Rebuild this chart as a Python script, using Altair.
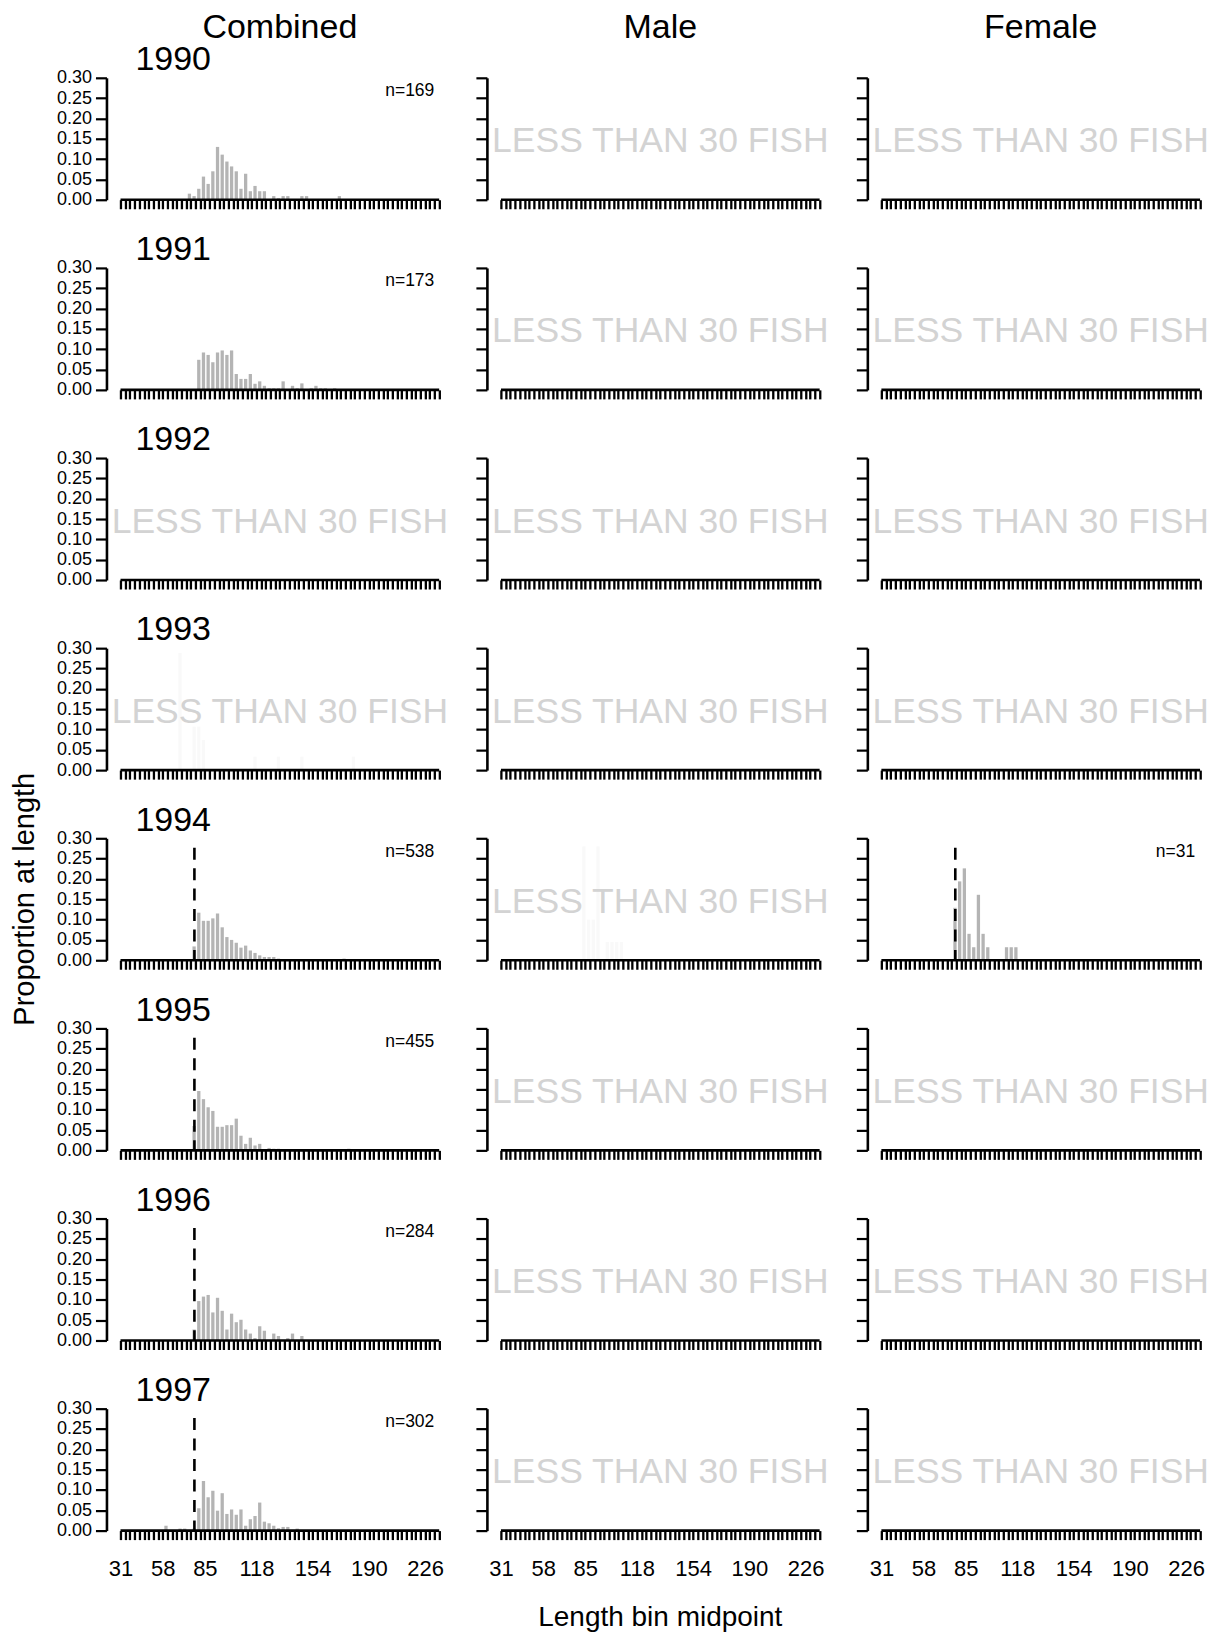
import altair as alt
import pandas as pd

FONT = "Liberation Sans"

# ---------------- data ----------------
BIN_MIDPOINTS = list(range(31, 236, 3))
TICK_LABELS = [31, 58, 85, 118, 154, 190, 226]
YEARS = [1990, 1991, 1992, 1993, 1994, 1995, 1996, 1997]
SEXES = ["Combined", "Male", "Female"]
Y_TICKS = [0.0, 0.05, 0.10, 0.15, 0.20, 0.25, 0.30]

comb_1990_len = [73, 76, 79, 82, 85, 88, 91, 94, 97, 100, 103, 106, 109, 112, 115, 118, 121, 127, 130, 133, 136, 145, 148, 169]
comb_1990_prop = [0.015, 0.009, 0.027, 0.057, 0.039, 0.070, 0.130, 0.111, 0.094, 0.082, 0.070, 0.027, 0.064, 0.021, 0.034, 0.021, 0.021, 0.009, 0.004, 0.009, 0.009, 0.009, 0.009, 0.009]

comb_1991_len = [79, 82, 85, 88, 91, 94, 97, 100, 103, 106, 109, 112, 115, 118, 121, 124, 127, 130, 133, 139, 142, 145, 151, 154, 157, 160, 166]
comb_1991_prop = [0.074, 0.092, 0.086, 0.068, 0.092, 0.097, 0.086, 0.097, 0.039, 0.027, 0.027, 0.039, 0.015, 0.021, 0.010, 0.004, 0.004, 0.004, 0.021, 0.010, 0.004, 0.016, 0.004, 0.010, 0.004, 0.004, 0.004]

comb_1994_len = [76, 79, 82, 85, 88, 91, 94, 97, 100, 103, 106, 109, 112, 115, 118, 121, 124, 127, 130, 133, 172]
comb_1994_prop = [0.034, 0.117, 0.097, 0.097, 0.103, 0.115, 0.081, 0.057, 0.050, 0.043, 0.031, 0.036, 0.024, 0.018, 0.012, 0.008, 0.008, 0.008, 0.004, 0.002, 0.004]

comb_1995_len = [76, 79, 82, 85, 88, 91, 94, 97, 100, 103, 106, 109, 112, 115, 118, 124, 127, 130, 175]
comb_1995_prop = [0.060, 0.146, 0.126, 0.106, 0.097, 0.058, 0.058, 0.062, 0.062, 0.078, 0.036, 0.016, 0.031, 0.012, 0.016, 0.006, 0.004, 0.004, 0.004]

comb_1996_len = [76, 79, 82, 85, 88, 91, 94, 97, 100, 103, 106, 109, 112, 115, 118, 121, 127, 130, 136, 139, 145]
comb_1996_prop = [0.027, 0.097, 0.108, 0.112, 0.069, 0.105, 0.073, 0.027, 0.066, 0.045, 0.051, 0.027, 0.017, 0.006, 0.035, 0.024, 0.017, 0.011, 0.006, 0.017, 0.011]

comb_1997_len = [58, 67, 70, 76, 79, 82, 85, 88, 91, 94, 97, 100, 103, 106, 109, 112, 115, 118, 121, 124, 127, 130, 133, 136, 142]
comb_1997_prop = [0.012, 0.005, 0.005, 0.005, 0.055, 0.122, 0.082, 0.098, 0.049, 0.092, 0.041, 0.052, 0.039, 0.052, 0.012, 0.028, 0.036, 0.069, 0.022, 0.018, 0.012, 0.006, 0.009, 0.009, 0.005]

fem_1994_len = [76, 79, 82, 85, 88, 91, 94, 97, 109, 112, 115]
fem_1994_prop = [0.129, 0.194, 0.226, 0.065, 0.032, 0.161, 0.065, 0.032, 0.032, 0.032, 0.032]

# faint bars behind the "fewer than 30 fish" notice
comb_1993_len = [67, 76, 79, 82, 115, 130, 145, 178]
comb_1993_prop = [0.288, 0.107, 0.107, 0.074, 0.033, 0.033, 0.033, 0.033]
male_1994_len = [82, 85, 88, 91, 97, 100, 103, 106]
male_1994_prop = [0.280, 0.100, 0.100, 0.280, 0.045, 0.045, 0.045, 0.045]

PANELS = {
    ("Combined", 1990): (comb_1990_len, comb_1990_prop),
    ("Combined", 1991): (comb_1991_len, comb_1991_prop),
    ("Combined", 1994): (comb_1994_len, comb_1994_prop),
    ("Combined", 1995): (comb_1995_len, comb_1995_prop),
    ("Combined", 1996): (comb_1996_len, comb_1996_prop),
    ("Combined", 1997): (comb_1997_len, comb_1997_prop),
    ("Female", 1994): (fem_1994_len, fem_1994_prop),
}
FAINT_PANELS = {
    ("Combined", 1993): (comb_1993_len, comb_1993_prop),
    ("Male", 1994): (male_1994_len, male_1994_prop),
}
SAMPLE_N = {
    ("Combined", 1990): 169,
    ("Combined", 1991): 173,
    ("Combined", 1994): 538,
    ("Combined", 1995): 455,
    ("Combined", 1996): 284,
    ("Combined", 1997): 302,
    ("Female", 1994): 31,
}
CUTOFF_PANELS = [("Combined", 1994), ("Combined", 1995), ("Combined", 1996),
                 ("Combined", 1997), ("Female", 1994)]
CUTOFF_LENGTH = 78.3
CUTOFF_TOP = 0.277

NOTICE = "LESS THAN 30 FISH"
X_TITLE = "Length bin midpoint"
Y_TITLE = "Proportion at length"

# ---------------- layout ----------------
W, H = 336, 122
X_DOMAIN = [22, 237]
Y_DOMAIN = [0, 0.30]
BAR_COLOR = "#b4b4b4"
FAINT_COLOR = "#f9f9f9"
NOTICE_COLOR = "#d3d3d3"

XS = alt.Scale(domain=X_DOMAIN, nice=False, zero=False)
YS = alt.Scale(domain=Y_DOMAIN, nice=False, zero=True)


def px(v):
    return (v - X_DOMAIN[0]) / (X_DOMAIN[1] - X_DOMAIN[0]) * W


MID_PX = px((BIN_MIDPOINTS[0] + BIN_MIDPOINTS[-1]) / 2)

label_expr = ("indexof([" + ",".join(str(v) for v in TICK_LABELS)
              + "], datum.value) >= 0 ? datum.label : ''")


def text_layer(text, x, y, size, align="left", color="black",
               baseline="alphabetic", angle=0):
    return alt.Chart(pd.DataFrame({"t": [text]})).mark_text(
        align=align, baseline=baseline, fontSize=size, font=FONT,
        color=color, angle=angle
    ).encode(x=alt.value(x), y=alt.value(y), text="t:N")


def make_panel(sex, year):
    first_col = sex == SEXES[0]
    last_row = year == YEARS[-1]
    key = (sex, year)

    x_axis = alt.Axis(
        values=BIN_MIDPOINTS, domain=False, grid=False, ticks=True,
        tickSize=9, tickWidth=2.3, tickColor="black",
        labels=last_row, labelExpr=label_expr, labelFont=FONT,
        labelFontSize=22, labelColor="black", labelPadding=36,
        labelBaseline="alphabetic", labelFlush=False, labelOverlap=False,
        labelBound=False, title=None,
    )
    y_axis = alt.Axis(
        values=Y_TICKS, format=".2f", domain=True, domainColor="black",
        domainWidth=2.6, ticks=True, tickSize=11, tickWidth=2.2,
        tickColor="black", labels=first_col, labelFont=FONT,
        labelFontSize=18, labelColor="black", labelPadding=4,
        grid=False, title=None, labelOverlap=False,
    )

    def X(field):
        return alt.X(field, scale=XS, axis=x_axis)

    def Y(field):
        return alt.Y(field, scale=YS, axis=y_axis)

    base_df = pd.DataFrame({"start": [BIN_MIDPOINTS[0]],
                            "end": [BIN_MIDPOINTS[-1]], "zero": [0.0]})
    axis_line = alt.Chart(base_df).mark_rule(
        color="black", strokeWidth=2.6
    ).encode(x=X("start:Q"), x2="end:Q", y=Y("zero:Q"))

    layers = []
    data = PANELS.get(key) or FAINT_PANELS.get(key)
    if data is not None:
        lens, props = data
        df = pd.DataFrame({"len": lens, "prop": props})
        df["lo"] = df["len"] + 1.05
        df["hi"] = df["len"] + 3.15
        df["base"] = 0.0
        color = BAR_COLOR if key in PANELS else FAINT_COLOR
        layers.append(
            alt.Chart(df).mark_bar(color=color).encode(
                x=X("lo:Q"), x2="hi:Q", y=Y("prop:Q"), y2="base:Q",
            )
        )
    layers.append(axis_line)

    if key in CUTOFF_PANELS:
        cdf = pd.DataFrame({"cut": [CUTOFF_LENGTH], "top": [CUTOFF_TOP],
                            "bottom": [0.0]})
        layers.append(
            alt.Chart(cdf).mark_rule(
                color="black", strokeWidth=2.6, strokeDash=[12, 8.5]
            ).encode(x=X("cut:Q"), y=Y("top:Q"), y2="bottom:Q")
        )

    if key not in PANELS:
        layers.append(text_layer(NOTICE, MID_PX, 74.5, 35.5, align="center",
                                 color=NOTICE_COLOR))
    if key in SAMPLE_N:
        layers.append(text_layer(f"n={SAMPLE_N[key]}", 328, 18.5, 17.5,
                                 align="right"))
    if first_col:
        layers.append(text_layer(str(year), 29, -7.7, 34))
    if year == YEARS[0]:
        layers.append(text_layer(sex, MID_PX, -40, 34, align="center"))
    if first_col and year == 1994:
        layers.append(text_layer(Y_TITLE, -72, 61, 29, align="center",
                                 angle=270))
    if sex == SEXES[1] and last_row:
        layers.append(text_layer(X_TITLE, MID_PX, H + 95, 28,
                                 align="center"))

    return alt.layer(*layers).properties(width=W, height=H)


panels = [make_panel(s, y) for y in YEARS for s in SEXES]

chart = alt.concat(
    *panels, columns=3, spacing={"row": 68.2, "column": 44.6}, bounds="flush"
).properties(
    padding={"left": 3.5, "top": 2.5, "right": 0, "bottom": 0}
).configure(font=FONT).configure_view(stroke=None)

chart.save("out.html", embed_options={"renderer": "svg", "actions": False})
